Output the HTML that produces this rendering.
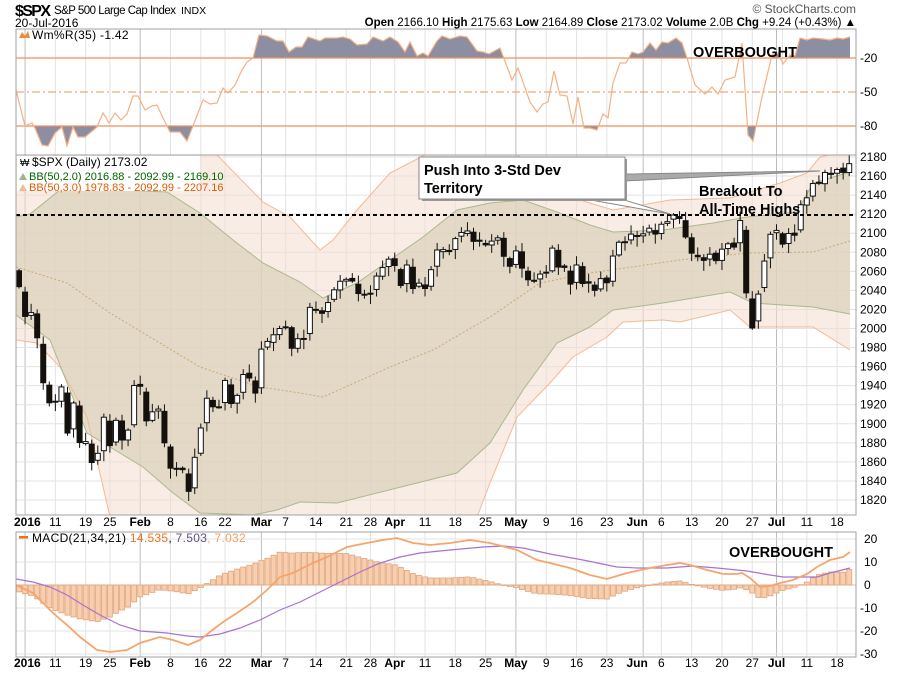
<!DOCTYPE html>
<html><head><meta charset="utf-8">
<style>
html,body{margin:0;padding:0;background:#fff;}
svg{display:block;font-family:"Liberation Sans",sans-serif;}
</style></head>
<body>
<svg id="c" width="900" height="673" viewBox="0 0 900 673" xmlns="http://www.w3.org/2000/svg"></svg>
<script>
const S=[];
function add(s){S.push(s);}
const closes=[2043.94,
2012.66,2016.71,1990.26,1943.09,1922.03,1923.67,1938.68,1890.28,1921.84,1880.33,1881.33,1859.33,1868.99,1906.90,1877.08,1903.63,1882.95,1893.36,1940.24,
1939.38,1903.03,1912.53,1915.45,1880.05,1853.44,1852.21,1851.86,1829.08,1864.78,1895.58,1926.82,1917.83,1917.78,1945.50,1921.27,1929.80,1951.70,1948.05,1932.23,
1978.35,1986.45,1993.40,1999.99,2001.76,1979.26,1989.26,1989.57,2022.19,2019.64,2015.93,2027.22,2040.59,2049.58,2051.60,2049.80,2036.71,2035.94,2037.05,2055.01,2063.95,
2072.78,2066.13,2045.17,2066.66,2041.91,2047.60,2041.99,2061.72,2082.42,2082.78,2080.73,2094.34,2100.80,2102.40,2091.48,2091.58,2087.79,2091.70,2095.15,2075.81,2065.30,
2081.43,2063.37,2051.12,2050.63,2057.14,2058.69,2084.39,2064.46,2064.11,2046.61,2066.66,2047.21,2047.63,2040.04,2052.32,2048.04,2076.06,2090.54,2090.10,2099.06,2096.95,
2099.33,2105.26,2099.13,2109.41,2112.13,2119.12,2115.48,2096.07,2079.06,2075.32,2071.50,2077.99,2071.22,2083.25,2088.90,2085.45,2113.32,2037.41,2000.54,2036.09,2070.77,2098.86,
2102.95,2088.55,2099.73,2097.90,2129.90,2137.16,2152.14,2152.43,2163.75,2161.74,2166.89,2163.78,2173.02];
const N=closes.length;
const X=i=>19+6.06*i;
const Y=v=>157+(2180-v)*0.9528;
const L=16,R=856;
const weekIdx=[1,6,11,15,20,25,30,34,40,44,49,54,58,62,67,72,77,82,87,92,97,103,106,111,116,121,125,126,130,135];
const monthIdx=[1,20,40,61,82,103,125];
function vgrid(y1,y2){
  weekIdx.forEach(i=>{const m=monthIdx.includes(i);add(`<line x1="${X(i)}" y1="${y1}" x2="${X(i)}" y2="${y2}" stroke="${m?'#bdbdbd':'#e3e3e3'}" stroke-width="1"/>`);});
}
vgrid(29,155);
vgrid(155,515);
for(let v=1820;v<=2180;v+=20){add(`<line x1="${L}" y1="${Y(v)}" x2="${R}" y2="${Y(v)}" stroke="#e3e3e3"/>`);}
const b3u=[[16,140],[200,140],[217,155],[263,202],[290,217],[320,250],[333,240],[357,210],[390,173],[423,156],[440,140],[510,140],[518,155],[540,180],[580,200],[613,210],[670,200],[730,198],[747,193],[780,183],[807,173],[820,157],[850,150]];
const b3l=[[16,340],[37,343],[60,367],[87,417],[110,517],[120,560],[460,560],[477,517],[490,483],[517,417],[550,383],[573,357],[590,347],[607,337],[623,322],[663,320],[680,322],[730,310],[750,327],[813,327],[850,350]];
const b2u=[[16,217],[30,214],[60,190],[120,190],[167,192],[200,213],[233,240],[263,263],[300,282],[323,298],[357,283],[390,260],[423,237],[457,210],[490,203],[523,200],[557,212],[590,225],[613,232],[663,230],[713,223],[747,217],[797,212],[813,183],[850,172]];
const b2l=[[16,315],[50,340],[87,433],[110,447],[143,467],[173,493],[200,513],[253,515],[277,510],[300,502],[337,503],[417,483],[457,473],[490,443],[523,390],[557,343],[590,327],[613,310],[663,303],[730,292],[753,303],[813,307],[850,314]];
const mid=[[16,267],[67,283],[110,313],[200,367],[260,387],[300,393],[323,397],[390,367],[433,350],[490,317],[540,283],[590,273],[680,260],[747,253],[813,252],[850,241]];
const pts=a=>a.map(p=>p.join(',')).join(' ');
add(`<defs><clipPath id="mp"><rect x="${L}" y="155" width="${R-L}" height="360"/></clipPath><clipPath id="wt"><rect x="16" y="29" width="840" height="29"/></clipPath><clipPath id="wb"><rect x="16" y="126" width="840" height="29"/></clipPath></defs>`);
add(`<g clip-path="url(#mp)">`);
add(`<polygon points="${pts(b3u)} ${pts(b3l.slice().reverse())}" fill="#f3dccd" fill-opacity="0.55"/>`);
add(`<polygon points="${pts(b2u)} ${pts(b2l.slice().reverse())}" fill="#d9cfb5" fill-opacity="0.65"/>`);
add(`<polyline points="${pts(b3u)}" fill="none" stroke="#f5b894" stroke-width="1"/>`);
add(`<polyline points="${pts(b3l)}" fill="none" stroke="#f5b894" stroke-width="1"/>`);
add(`<polyline points="${pts(b2u)}" fill="none" stroke="#a9b98e" stroke-width="1"/>`);
add(`<polyline points="${pts(b2l)}" fill="none" stroke="#a9b98e" stroke-width="1"/>`);
add(`<polyline points="${pts(mid)}" fill="none" stroke="#c8a878" stroke-width="1" stroke-dasharray="2,2"/>`);
const opens=closes.map((c,i)=>{ if(i==0)return 2060.59; const p=closes[i-1]; return p+(c-p)*0.12+((i*37)%7-3)*0.6;});
opens[1]=2038.2; opens[119]=2090; opens[120]=2103; opens[121]=2031; opens[122]=2008; opens[123]=2043;
for(let i=0;i<N;i++){
  const o=opens[i],c=closes[i];
  const r1=2+((i*13)%9)*0.9, r2=2+((i*29)%11)*0.9;
  const hi=Math.max(o,c)+r1, lo=Math.min(o,c)-r2;
  const x=X(i);
  add(`<line x1="${x}" y1="${Y(hi)}" x2="${x}" y2="${Y(lo)}" stroke="#111" stroke-width="1"/>`);
  const top=Y(Math.max(o,c)),bot=Y(Math.min(o,c));
  const h=Math.max(1,bot-top);
  const down=c<o;
  add(`<rect x="${x-2.5}" y="${top}" width="5" height="${h}" fill="${down?'#15110a':'#fff'}" stroke="#111" stroke-width="1"/>`);
}
add(`</g>`);
add(`<line x1="${L}" y1="215" x2="${R}" y2="215" stroke="#000" stroke-width="2" stroke-dasharray="4,3"/>`);
add(`<polygon points="625,174 820,171 625,181" fill="#aaa" stroke="#888" stroke-width="1"/>`);
add(`<polygon points="585,199 621,199 670,214" fill="#fff" stroke="#888" stroke-width="1"/>`);
add(`<rect x="422" y="159" width="205" height="42" fill="#999"/>`);
add(`<rect x="419" y="157" width="206" height="42" fill="#fff" stroke="#888"/>`);
add(`<text x="424" y="175" font-size="14.5" font-weight="bold" fill="#000">Push Into 3-Std Dev</text>`);
add(`<text x="424" y="193" font-size="14.5" font-weight="bold" fill="#000">Territory</text>`);
add(`<text x="699" y="196" font-size="14.5" font-weight="bold" fill="#000">Breakout To</text>`);
add(`<text x="699" y="214" font-size="14.5" font-weight="bold" fill="#000">All-Time Highs</text>`);
add(`<rect x="17" y="156" width="183" height="35" fill="#fff"/>`);
add(`<text x="32" y="166" font-size="12" fill="#000">$SPX (Daily) 2173.02</text>`);
add(`<text x="20" y="166" font-size="10" fill="#000">₩</text>`);
add(`<polygon points="19,180 23,173 27,180" fill="#9cb58a"/><text x="29" y="180" font-size="11" fill="#006400">BB(50,2.0) 2016.88 - 2092.99 - 2169.10</text>`);
add(`<polygon points="19,191 23,184 27,191" fill="#f5b894"/><text x="29" y="191" font-size="11" fill="#e05a00">BB(50,3.0) 1978.83 - 2092.99 - 2207.16</text>`);
const w=[[16,90],[25,126],[32,123],[35,128],[42,145],[48,146],[55,133],[62,127],[67,146],[73,127],[78,137],[85,137],[97,127],[103,113],[109,123],[115,113],[121,120],[127,114],[133,96],[138,96],[145,110],[152,106],[157,105],[163,118],[170,132],[180,132],[187,141],[193,126],[203,100],[210,104],[217,103],[223,88],[228,93],[235,85],[242,70],[247,62],[253,58],[259,35],[267,36],[277,41],[283,41],[289,52],[296,47],[302,47],[308,37],[320,41],[325,38],[337,38],[343,37],[350,39],[357,45],[367,44],[373,37],[383,41],[390,37],[398,42],[405,52],[410,42],[417,56],[423,53],[428,56],[437,41],[442,36],[450,39],[460,36],[467,37],[477,51],[483,52],[489,54],[500,48],[512,80],[518,68],[530,102],[537,112],[543,104],[548,102],[554,71],[560,95],[567,96],[573,124],[578,97],[584,128],[590,128],[597,130],[603,114],[608,118],[613,83],[620,63],[626,63],[632,52],[638,54],[643,52],[650,43],[656,50],[662,42],[668,43],[676,38],[682,43],[687,58],[695,85],[705,94],[712,87],[718,94],[725,80],[735,77],[742,43],[748,135],[753,141],[762,97],[772,55],[778,53],[783,64],[790,55],[795,56],[800,38],[807,40],[813,38],[823,39],[830,40],[837,38],[843,39],[850,37]];
add(`<polygon clip-path="url(#wt)" points="${pts(w)} 850,58 16,58" fill="#8e8ea2"/>`);
add(`<polygon clip-path="url(#wb)" points="${pts(w)} 850,126 16,126" fill="#8e8ea2"/>`);
add(`<line x1="${L}" y1="58" x2="${R}" y2="58" stroke="#f0915a" stroke-width="1.3"/>`);
add(`<line x1="${L}" y1="126" x2="${R}" y2="126" stroke="#f0915a" stroke-width="1.3"/>`);
add(`<line x1="${L}" y1="92" x2="${R}" y2="92" stroke="#f0915a" stroke-width="1" stroke-dasharray="8,3,2,3"/>`);
add(`<polyline points="${pts(w)}" fill="none" stroke="#f5b084" stroke-width="1.2"/>`);
add(`<text x="693" y="57" font-size="14.5" font-weight="bold" fill="#000">OVERBOUGHT</text>`);
add(`<polygon points="19,38 22,32 25,36 28,31 30,38" fill="#f08a40"/><text x="32" y="39" font-size="12" fill="#000" letter-spacing="0.3">Wm%R(35) -1.42</text>`);
vgrid(532,657);
[20,10,0,-10,-20,-30].forEach(v=>{const y=585-v*2.3;add(`<line x1="${L}" y1="${y}" x2="${R}" y2="${y}" stroke="#e3e3e3"/>`);});
const mo=[[16,585],[33,593],[43,603],[53,613],[67,625],[80,637],[97,650],[110,652],[127,650],[140,643],[160,637],[173,640],[188,645],[200,640],[210,632],[223,622],[237,613],[253,602],[267,590],[280,577],[293,573],[313,563],[327,557],[347,547],[367,543],[383,540],[397,538],[413,543],[430,545],[450,543],[470,540],[490,543],[517,550],[537,560],[550,563],[570,568],[590,575],[607,579],[627,573],[650,568],[667,565],[680,563],[690,565],[707,570],[723,574],[737,574],[742,573],[750,578],[760,587],[770,586],[780,583],[793,580],[807,574],[817,567],[830,560],[843,557],[850,552]];
const ms=[[16,579],[33,582],[50,587],[67,595],[83,605],[100,615],[120,625],[140,631],[167,633],[187,636],[200,637],[220,634],[240,628],[260,620],[280,610],[300,602],[320,592],[340,582],[360,572],[380,563],[400,557],[420,553],[450,550],[483,547],[503,546],[523,548],[550,554],[583,560],[617,567],[637,568],[667,568],[693,566],[717,568],[747,571],[770,575],[783,577],[800,577],[817,577],[830,573],[850,568]];
function interp(a,x){for(let k=0;k<a.length-1;k++){if(x>=a[k][0]&&x<=a[k+1][0]){const t=(x-a[k][0])/(a[k+1][0]-a[k][0]);return a[k][1]+t*(a[k+1][1]-a[k][1]);}}return a[a.length-1][1];}
for(let i=0;i<N;i++){const x=X(i);const d=interp(mo,x)-interp(ms,x);const y=585+d;
add(`<rect x="${x-2.5}" y="${Math.min(585,y)}" width="5" height="${Math.max(0.5,Math.abs(d))}" fill="#f8cfae" stroke="#e0a47c" stroke-width="0.8"/>`);}
add(`<line x1="${L}" y1="585" x2="${R}" y2="585" stroke="#e0a47c" stroke-width="0.6"/>`);
add(`<polyline points="${pts(ms)}" fill="none" stroke="#a872d0" stroke-width="1.2"/>`);
add(`<polyline points="${pts(mo)}" fill="none" stroke="#f5a56c" stroke-width="1.8"/>`);
add(`<text x="729" y="557" font-size="14.5" font-weight="bold" fill="#000">OVERBOUGHT</text>`);
add(`<rect x="19" y="536" width="9" height="2.5" fill="#f07020"/><text x="32" y="542" font-size="12" fill="#000" letter-spacing="0.3">MACD(21,34,21) <tspan fill="#f07020">14.535</tspan>, <tspan fill="#605080">7.503</tspan><tspan fill="#f0a060">, 7.032</tspan></text>`);
[[29,155],[155,515],[532,657]].forEach(([a,b])=>add(`<rect x="${L}" y="${a}" width="${R-L}" height="${b-a}" fill="none" stroke="#a0a0a0"/>`));
[[-20,58],[-50,92],[-80,126]].forEach(([v,y])=>add(`<text x="860" y="${y+4}" font-size="12" fill="#000">${v}</text>`));
for(let v=1820;v<=2180;v+=20)add(`<text x="860" y="${Y(v)+4}" font-size="12" fill="#000">${v}</text>`);
[20,10,0,-10,-20,-30].forEach(v=>add(`<text x="${v>=0?864:860}" y="${585-v*2.3+4}" font-size="12" fill="#000">${v}</text>`));
const lab=[[1,'2016',1],[6,'11'],[11,'19'],[15,'25'],[20,'Feb',1],[25,'8'],[30,'16'],[34,'22'],[40,'Mar',1],[44,'7'],[49,'14'],[54,'21'],[58,'28'],[62,'Apr',1],[67,'11'],[72,'18'],[77,'25'],[82,'May',1],[87,'9'],[92,'16'],[97,'23'],[103,'Jun',1],[106,'6'],[111,'13'],[116,'20'],[121,'27'],[125,'Jul',1],[130,'11'],[135,'18']];
[526,667].forEach(yy=>lab.forEach(([i,t,b])=>{let x=X(i);let anc='middle';if(t==='2016'){x=14;anc='start';}else if(t==='Jun'){x=x-6;}add(`<text x="${x}" y="${yy}" font-size="12" ${b?'font-weight="bold"':''} text-anchor="${anc}" fill="#000">${t}</text>`);}));
add(`<text x="15" y="16" font-size="16" font-weight="bold" fill="#000" textLength="36">$SPX</text>`);
add(`<text x="54" y="14" font-size="11.5" fill="#000" textLength="122">S&amp;P 500 Large Cap Index</text><text x="181" y="14" font-size="10.5" fill="#000">INDX</text>`);
add(`<text x="15" y="27" font-size="12" fill="#000">20-Jul-2016</text>`);
add(`<text x="856" y="13" font-size="12" fill="#555" text-anchor="end">© StockCharts.com</text>`);
add(`<text x="856" y="26" font-size="11.5" fill="#000" text-anchor="end"><tspan font-weight="bold">Open</tspan> 2166.10 <tspan font-weight="bold">High</tspan> 2175.63 <tspan font-weight="bold">Low</tspan> 2164.89 <tspan font-weight="bold">Close</tspan> 2173.02 <tspan font-weight="bold">Volume</tspan> 2.0B <tspan font-weight="bold">Chg</tspan> +9.24 (+0.43%) ▲</text>`);
document.getElementById('c').innerHTML=S.join('');
</script>
</body></html>
